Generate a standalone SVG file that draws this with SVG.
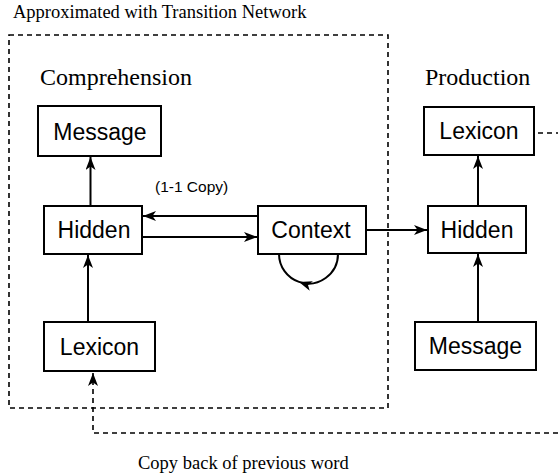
<svg xmlns="http://www.w3.org/2000/svg" width="558" height="476" viewBox="0 0 558 476">
<defs>
<style>
.box{fill:#fff;stroke:#000;stroke-width:2}
.lbl{font-family:"Liberation Sans",Arial,sans-serif;font-size:23px;text-anchor:middle;fill:#000}
.ser{font-family:"Liberation Serif","Times New Roman",serif;fill:#000}
.ln{fill:none;stroke:#000;stroke-width:2}
.dash{fill:none;stroke:#000;stroke-width:1.6;stroke-dasharray:5 4}
</style>
<marker id="ah" viewBox="0 0 13 10" refX="13" refY="5" markerWidth="13" markerHeight="10" markerUnits="userSpaceOnUse" orient="auto">
<path d="M0,0 L13,5 L0,10 L3.5,5 z" fill="#000"/>
</marker>
</defs>
<rect width="558" height="476" fill="#fff"/>
<text class="ser" x="13" y="18" font-size="18.5">Approximated with Transition Network</text>
<rect x="9" y="35" width="379" height="373" class="dash"/>
<text class="ser" x="40" y="85" font-size="24">Comprehension</text>
<text class="ser" x="425" y="85" font-size="24">Production</text>
<g id="connectors">
<line x1="90.5" y1="206" x2="90.5" y2="157" class="ln" marker-end="url(#ah)"/>
<line x1="258" y1="216" x2="143" y2="216" class="ln" marker-end="url(#ah)"/>
<line x1="142" y1="237" x2="257" y2="237" class="ln" marker-end="url(#ah)"/>
<line x1="88" y1="322" x2="88" y2="255" class="ln" marker-end="url(#ah)"/>
<path d="M338,254 A29.5,29.5 0 0 1 299,281.9 A29.5,29.5 0 0 1 279,254" class="ln" marker-mid="url(#ah)"/>
<line x1="366" y1="230" x2="427" y2="230" class="ln" marker-end="url(#ah)"/>
<line x1="478" y1="206" x2="478" y2="156" class="ln" marker-end="url(#ah)"/>
<line x1="478" y1="322" x2="478" y2="254" class="ln" marker-end="url(#ah)"/>
<line x1="538" y1="133" x2="558" y2="133" class="dash"/>
<path d="M558,433 L93,433 L93,373" class="dash" marker-end="url(#ah)"/>
</g>
<g id="comp-message"><rect x="38" y="106" width="123" height="50" class="box"/><text class="lbl" x="100" y="140">Message</text></g>
<g id="comp-hidden"><rect x="44" y="206" width="98" height="48" class="box"/><text class="lbl" x="94" y="238">Hidden</text></g>
<g id="context"><rect x="258" y="206" width="108" height="48" class="box"/><text class="lbl" x="311" y="238">Context</text></g>
<g id="comp-lexicon"><rect x="44" y="322" width="111" height="49" class="box"/><text class="lbl" x="99.5" y="355">Lexicon</text></g>
<g id="prod-lexicon"><rect x="424" y="107" width="110" height="48" class="box"/><text class="lbl" x="479" y="139">Lexicon</text></g>
<g id="prod-hidden"><rect x="428" y="206" width="98" height="47" class="box"/><text class="lbl" x="477" y="238">Hidden</text></g>
<g id="prod-message"><rect x="415" y="322" width="121" height="48" class="box"/><text class="lbl" x="475.5" y="354">Message</text></g>
<text x="155" y="192" font-family="Liberation Sans,Arial,sans-serif" font-size="15.5">(1-1 Copy)</text>
<text class="ser" x="138" y="469" font-size="18.5">Copy back of previous word</text>
</svg>
